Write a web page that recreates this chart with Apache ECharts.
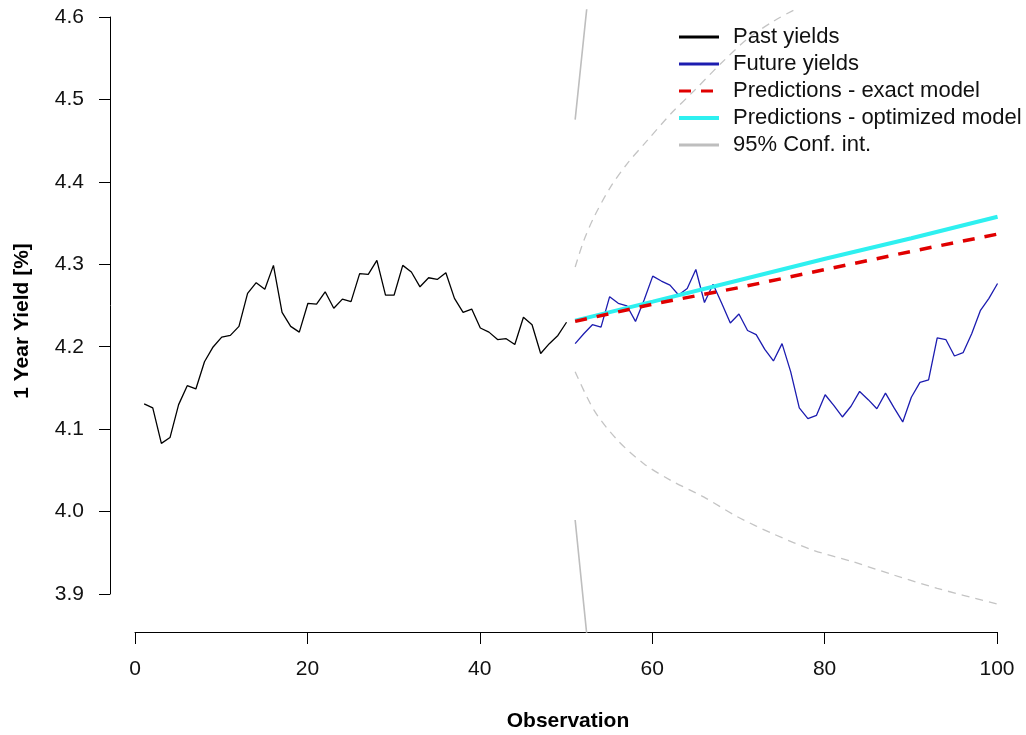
<!DOCTYPE html>
<html>
<head>
<meta charset="utf-8">
<title>1 Year Yield</title>
<script src="https://cdn.jsdelivr.net/npm/echarts@6.0.0/dist/echarts.min.js"></script>
<style>
  html, body { margin: 0; padding: 0; background: #fff; }
  #chart { width: 1026px; height: 735px; }
</style>
</head>
<body>
<div id="chart"></div>
<script>
  // observed yields, obs 1..50 and 51..100
  var pastYields = [4.131, 4.126, 4.083, 4.090, 4.130, 4.153, 4.149, 4.182, 4.200, 4.212,
    4.214, 4.225, 4.265, 4.278, 4.270, 4.299, 4.242, 4.225, 4.218, 4.253,
    4.252, 4.267, 4.247, 4.258, 4.255, 4.289, 4.288, 4.305, 4.263, 4.263,
    4.299, 4.291, 4.273, 4.284, 4.282, 4.290, 4.259, 4.242, 4.246, 4.223,
    4.218, 4.209, 4.210, 4.203, 4.236, 4.227, 4.192, 4.204, 4.214, 4.230];
  var futureYields = [4.204, 4.216, 4.227, 4.224, 4.261, 4.253, 4.250, 4.231, 4.257, 4.286,
    4.280, 4.275, 4.263, 4.271, 4.294, 4.254, 4.276, 4.253, 4.229, 4.240,
    4.220, 4.215, 4.197, 4.183, 4.204, 4.170, 4.126, 4.113, 4.117, 4.142,
    4.129, 4.115, 4.128, 4.146, 4.136, 4.125, 4.144, 4.126, 4.109, 4.139,
    4.157, 4.160, 4.211, 4.209, 4.189, 4.193, 4.216, 4.244, 4.259, 4.277];

  // predictions read at a few observations
  var predObs = [51, 60, 70, 80, 90, 100];
  var predExact = [4.231, 4.252, 4.272, 4.294, 4.316, 4.337];
  var predOptimized = [4.232, 4.255, 4.281, 4.307, 4.332, 4.358];

  // confidence bands [obs, value]
  var ciSolidUpper = [[51, 4.476], [52, 4.576], [53, 4.676]];
  var ciSolidLower = [[51, 3.990], [52, 3.887], [53, 3.784]];
  var ciDashUpper = [[51, 4.297], [52, 4.329], [53.2, 4.358], [55.1, 4.394], [57, 4.422],
    [59.4, 4.451], [62.1, 4.483], [64.8, 4.511], [67.9, 4.544], [71, 4.574],
    [74.1, 4.596], [76.4, 4.609], [80, 4.628]];
  var ciDashLower = [[51, 4.170], [53.2, 4.123], [55.9, 4.087], [59, 4.058], [62.1, 4.038],
    [65.9, 4.018], [69.8, 3.994], [74, 3.973], [78.7, 3.953], [83.3, 3.939],
    [88, 3.923], [93, 3.907], [100, 3.888]];

  var xTicks = [0, 20, 40, 60, 80, 100];
  var yTicks = [3.9, 4.0, 4.1, 4.2, 4.3, 4.4, 4.5, 4.6];

  var legendNames = ['Past yields', 'Future yields', 'Predictions - exact model',
    'Predictions - optimized model', '95% Conf. int.'];

  var FONT = "'Liberation Sans', Arial, sans-serif";

  var pastData = pastYields.map(function (v, i) { return [i + 1, v]; });
  var futureData = futureYields.map(function (v, i) { return [i + 51, v]; });
  var exactData = predObs.map(function (x, i) { return [x, predExact[i]]; });
  var optData = predObs.map(function (x, i) { return [x, predOptimized[i]]; });

  var chart = echarts.init(document.getElementById('chart'));

  var hidden = {show: false};
  var titleStyle = {fontSize: 21, fontWeight: 'bold', color: '#000', fontFamily: FONT};
  var noSymbol = {color: 'rgba(0,0,0,0)', borderWidth: 0, opacity: 0};

  var option = {
    animation: false,
    backgroundColor: '#fff',
    grid: [
      // plotting region
      {left: 110, right: 0, top: 10, bottom: 103, outerBoundsMode: 'none', containLabel: false},
      // tick range, used for the drawn axes
      {left: 135, right: 29, top: 17, bottom: 141, outerBoundsMode: 'none', containLabel: false}
    ],
    xAxis: [
      {
        gridIndex: 0, type: 'value', min: -2.96, max: 103.3,
        axisLine: hidden, axisTick: hidden, axisLabel: hidden, splitLine: hidden,
        name: 'Observation', nameLocation: 'middle', nameGap: 79, nameTextStyle: titleStyle
      },
      {
        gridIndex: 1, type: 'value', min: xTicks[0], max: xTicks[xTicks.length - 1], interval: 20,
        position: 'bottom', offset: 38,
        axisLine: {show: true, onZero: false, lineStyle: {color: '#000', width: 1}},
        axisTick: {show: true, inside: false, length: 12, lineStyle: {color: '#000'}},
        axisLabel: {margin: 27, fontSize: 21, color: '#111', fontFamily: FONT},
        splitLine: hidden
      }
    ],
    yAxis: [
      {
        gridIndex: 0, type: 'value', min: 3.854, max: 4.609,
        axisLine: hidden, axisTick: hidden, axisLabel: hidden, splitLine: hidden,
        name: '1 Year Yield [%]', nameLocation: 'middle', nameGap: 77, nameTextStyle: titleStyle
      },
      {
        gridIndex: 1, type: 'value', min: yTicks[0], max: yTicks[yTicks.length - 1], interval: 0.1,
        position: 'left', offset: 25,
        axisLine: {show: true, onZero: false, lineStyle: {color: '#000', width: 1}},
        axisTick: {show: true, inside: false, length: 11, lineStyle: {color: '#000'}},
        axisLabel: {
          margin: 26, fontSize: 21, color: '#111', fontFamily: FONT,
          formatter: function (v) { return v.toFixed(1); }
        },
        splitLine: hidden
      }
    ],
    legend: {
      orient: 'vertical',
      left: 672, top: 21,
      itemWidth: 40, itemHeight: 14, itemGap: 5,
      selectedMode: false,
      textStyle: {fontSize: 22, lineHeight: 22, color: '#111', fontFamily: FONT, padding: [0, 0, 0, 9]},
      data: [
        {name: legendNames[0], lineStyle: {width: 3}, itemStyle: noSymbol},
        {name: legendNames[1], lineStyle: {width: 3}, itemStyle: noSymbol},
        {name: legendNames[2], lineStyle: {width: 3}, itemStyle: noSymbol},
        {name: legendNames[3], lineStyle: {width: 4}, itemStyle: noSymbol},
        {name: legendNames[4], lineStyle: {width: 3}, itemStyle: noSymbol}
      ]
    },
    series: [
      {
        name: legendNames[4], type: 'line', xAxisIndex: 0, yAxisIndex: 0,
        data: ciSolidUpper, symbol: 'none', color: '#bebebe',
        lineStyle: {color: '#bebebe', width: 1.6}
      },
      {
        name: legendNames[4] + ' ', type: 'line', xAxisIndex: 0, yAxisIndex: 0,
        data: ciSolidLower, symbol: 'none', color: '#bebebe',
        lineStyle: {color: '#bebebe', width: 1.6}
      },
      {
        name: 'ci dash upper', type: 'line', xAxisIndex: 0, yAxisIndex: 0,
        data: ciDashUpper, symbol: 'none', smooth: 0.3, color: '#c4c4c4',
        lineStyle: {color: '#c4c4c4', width: 1.3, type: [8, 6]}
      },
      {
        name: 'ci dash lower', type: 'line', xAxisIndex: 0, yAxisIndex: 0,
        data: ciDashLower, symbol: 'none', smooth: 0.3, color: '#c4c4c4',
        lineStyle: {color: '#c4c4c4', width: 1.3, type: [8, 6]}
      },
      {
        name: legendNames[0], type: 'line', xAxisIndex: 0, yAxisIndex: 0,
        data: pastData, symbol: 'none', color: '#000',
        lineStyle: {color: '#000', width: 1.3}
      },
      {
        name: legendNames[1], type: 'line', xAxisIndex: 0, yAxisIndex: 0,
        data: futureData, symbol: 'none', color: '#1c1cb0',
        lineStyle: {color: '#1c1cb0', width: 1.3}
      },
      {
        name: legendNames[3], type: 'line', xAxisIndex: 0, yAxisIndex: 0,
        data: optData, symbol: 'none', color: '#2ef0f0',
        lineStyle: {color: '#2ef0f0', width: 4}
      },
      {
        name: legendNames[2], type: 'line', xAxisIndex: 0, yAxisIndex: 0,
        data: exactData, symbol: 'none', color: '#e00000',
        lineStyle: {color: '#e00000', width: 3.5, type: [12, 10]}
      }
    ]
  };

  chart.setOption(option);
</script>
</body>
</html>
